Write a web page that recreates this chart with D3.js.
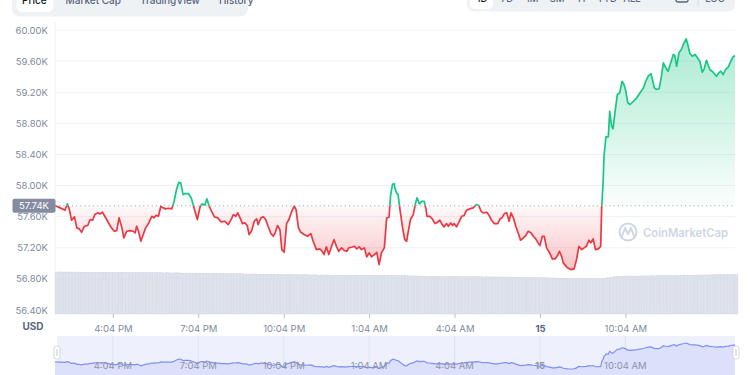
<!DOCTYPE html>
<html><head><meta charset="utf-8">
<script src="https://cdn.jsdelivr.net/npm/d3@7"></script>
<style>body{margin:0;background:#fff;overflow:hidden} svg{display:block;font-family:Inter,"Noto Sans",sans-serif}</style>
</head><body><svg id="c" width="750" height="375"></svg>
<script>
// ---------- data ----------
const startTime = new Date(2021, 9, 14, 14, 2);
const priceMinutes = [0,11,21,26,30,35,41,46,51,56,62,69,74,79,84,90,95,100,105,112,119,125,130,135,141,145,151,158,165,169,172,176,181,186,191,197,204,209,213,218,223,228,233,239,246,251,256,261,265,270,275,281,287,294,300,306,310,316,320,325,330,336,343,350,358,
365,371,376,381,385,390,395,400,405,409,414,420,425,428,434,439,444,449,455,460,464,469,474,478,483,488,493,499,504,508,513,518,525,532,539,544,551,558,563,567,572,577,583,588,593,598,604,610,615,619,625,631,636,641,646,652,657,662,667,673,678,683,688,694,699,704,707,711,715,
716,720,723,727,732,737,741,744,749,755,760,763,768,773,778,782,784,790,795,801,806,811,816,820,825,829,834,838,841,846,851,857,862,867,874,881,888,893,898,902,910,915,920,926,933,938,942,947,952,957,961,966,971,976,981,987,992,997,1003,1008,1013,1018,1022,1027,1031,1036,1043,1048,1054,1059,1063,1068,1071,
1080,1087,1094,1099,1104,1110,1115,1120,1125,1129,1134,1139,1145,1150,1152,1155,1157,1161,1166,1169,1173,1176,1180,1185,1190,1195,1199,1203,1207,1212,1219,1226,1233,1240,1245,1250,1256,1259,1263,1268,1273,1278,1282,1287,1292,1298,1303,1306,1310,1315,1320,1325,1330,1333,1338,1343,1349,1354,1359,1364,1368,1373,1376,1380,1387,1394,1399,1403,1408,1413,1419,1424,1429,1433];
const prices = [57743,57713,57682,57765,57700,57554,57597,57456,57443,57399,57477,57486,57563,57554,57627,57649,57636,57657,57605,57528,57456,57412,57421,57585,57456,57327,57412,57421,57412,57392,57477,57412,57284,57370,57456,57511,57605,57585,57618,57605,57734,57713,57700,57708,57700,57798,57949,58042,58035,57884,57897,57897,57842,57691,57563,57734,57765,57747,57829,57734,57669,57597,57585,57533,57541,
57498,57563,57627,57605,57649,57585,57511,57520,57486,57370,57412,57541,57572,57498,57585,57597,57563,57477,57383,57348,57392,57486,57434,57177,57142,57511,57563,57669,57734,57691,57456,57399,57370,57348,57383,57284,57177,57186,57155,57113,57212,57113,57219,57306,57219,57155,57199,57164,57155,57199,57207,57219,57186,57212,57177,57199,57083,57135,57083,57113,57142,56984,57135,57199,57585,57592,57862,58013,58026,
57970,57906,57884,57691,57477,57306,57284,57392,57563,57627,57778,57842,57765,57798,57798,57691,57605,57605,57572,57511,57528,57554,57498,57469,57511,57477,57520,57486,57511,57469,57528,57605,57614,57682,57700,57713,57756,57743,57669,57649,57657,57614,57554,57511,57511,57572,57585,57640,57649,57541,57649,57585,57477,57392,57297,57327,57357,57412,57392,57348,57315,57263,57228,57348,57348,57199,57126,57057,57057,57100,57155,57083,57006,
56942,56920,56929,57048,57219,57177,57199,57219,57297,57263,57315,57177,57186,57219,57713,58035,58377,58626,58626,58955,58763,58729,58935,59170,59192,59341,59299,59213,59064,59042,59084,59128,59192,59256,59341,59406,59440,59363,59256,59235,59244,59406,59578,59514,59470,59586,59685,59672,59534,59707,59749,59826,59887,59826,59698,59663,59685,59642,59598,59457,59501,59611,59556,59492,59457,59406,59449,59470,59427,59492,59526,59598,59655,59672];
const baselinePrice = 57740;
const volumeStepMinutes = 6;
const volumesB = [
42.0,42.1,42.0,41.9,42.0,42.0,41.9,41.9,42.0,41.8,41.8,41.9,41.8,41.8,41.7,41.8,41.7,41.7,41.6,41.7,
41.6,41.6,41.5,41.6,41.5,41.5,41.4,41.5,41.4,41.4,41.3,41.4,41.3,41.3,41.2,41.3,41.2,41.2,41.1,41.2,
41.1,41.1,41.2,41.0,41.0,40.9,41.0,40.9,40.8,40.9,40.8,40.8,40.7,40.7,40.8,40.6,40.6,40.5,40.6,40.5,
40.5,40.4,40.4,40.3,40.3,40.2,40.0,40.0,39.9,39.9,40.0,39.8,39.8,39.7,39.8,39.7,39.6,39.6,39.7,39.5,
39.5,39.4,39.5,39.4,39.3,39.3,39.2,39.3,39.2,39.1,39.1,39.2,39.0,39.0,38.9,39.0,38.9,38.8,38.9,38.8,
38.8,38.7,38.8,38.7,38.6,38.7,38.6,38.6,38.5,38.6,38.8,38.9,38.9,38.8,38.7,38.8,38.7,38.6,38.6,38.5,
38.4,38.3,38.3,38.2,38.1,38.1,38.0,38.0,37.9,37.9,37.8,37.8,37.7,37.8,37.7,37.6,37.6,37.5,37.6,37.5,
37.4,37.4,37.3,37.3,37.4,37.3,37.2,37.3,37.2,37.2,37.1,37.2,37.1,37.1,37.0,37.1,37.0,37.0,36.9,37.0,
36.9,36.8,36.9,36.8,36.7,36.6,36.6,36.5,36.4,36.4,36.3,36.2,36.2,36.1,36.0,36.0,35.9,35.8,35.8,35.7,
35.6,35.5,35.5,35.4,35.4,35.3,35.3,35.2,35.3,35.2,35.3,35.4,35.6,35.8,36.2,36.8,37.3,37.6,37.8,37.9,
38.0,37.9,38.0,38.0,37.9,38.0,38.1,38.0,38.1,38.2,38.1,38.2,38.3,38.2,38.3,38.4,38.3,38.4,38.5,38.4,
38.6,38.7,38.7,38.8,38.9,38.9,39.0,39.0,39.1,39.1,39.2,39.2,39.2,39.3,39.2,39.3,39.3,39.3,39.4,39.3];
const yTicks = [56400,56800,57200,57600,58000,58400,58800,59200,59600,60000];
const xTickMinutes = [122,302,482,662,842,1022,1202];
const xTickLabels = ["4:04 PM","7:04 PM","10:04 PM","1:04 AM","4:04 AM","15","10:04 AM"];
const leftTabs = ["Price","Market Cap","TradingView","History"];
const rangeTabs = ["1D","7D","1M","3M","1Y","YTD","ALL"];

// ---------- setup ----------
const toDate = m => new Date(startTime.getTime() + m*60000);
const pts = priceMinutes.map((m,i)=>({t:toDate(m), v:prices[i]}));
const svg = d3.select("#c");
const L = 55, R = 735;
const x = d3.scaleTime().domain([toDate(0), toDate(1433)]).range([L, R]);
const y = d3.scaleLinear().domain([56400, 60000]).range([310, 30]);
const yVol = d3.scaleLinear().domain([0, 45]).range([314, 269]);
const GREEN = "#16c784", RED = "#ea3943";
const by = y(baselinePrice);

const defs = svg.append("defs");
defs.append("clipPath").attr("id","above").append("rect").attr("x",0).attr("y",0).attr("width",750).attr("height",by);
defs.append("clipPath").attr("id","below").append("rect").attr("x",0).attr("y",by).attr("width",750).attr("height",375-by);
const gG = defs.append("linearGradient").attr("id","gG").attr("gradientUnits","userSpaceOnUse").attr("x1",0).attr("x2",0).attr("y1",y(d3.max(prices))).attr("y2",by);
gG.append("stop").attr("offset",0).attr("stop-color",GREEN).attr("stop-opacity",0.36);
gG.append("stop").attr("offset",1).attr("stop-color",GREEN).attr("stop-opacity",0.02);
const gR = defs.append("linearGradient").attr("id","gR").attr("gradientUnits","userSpaceOnUse").attr("x1",0).attr("x2",0).attr("y1",by).attr("y2",y(d3.min(prices)));
gR.append("stop").attr("offset",0).attr("stop-color",RED).attr("stop-opacity",0.03);
gR.append("stop").attr("offset",1).attr("stop-color",RED).attr("stop-opacity",0.3);

// ---------- top tab bars ----------
const tabsG = svg.append("g");
tabsG.append("rect").attr("x",12).attr("y",-12).attr("width",236).attr("height",28.5).attr("rx",8).attr("fill","#eff2f5");
tabsG.append("rect").attr("x",16.5).attr("y",-10).attr("width",37).attr("height",22).attr("rx",6).attr("fill","#fff");
const tabStarts = [];
let tx = 22;
leftTabs.forEach((t,i)=>{
  const el = tabsG.append("text").attr("x",tx).attr("y",4).attr("font-size",10).attr("font-weight",500)
    .attr("fill", i===0?"#0d1421":"#58667e").text(t);
  tx += el.node().getComputedTextLength() + 19;
});
const rg = svg.append("g");
rg.append("rect").attr("x",467).attr("y",-12).attr("width",268).attr("height",23.5).attr("rx",7).attr("fill","#eff2f5");
rg.append("rect").attr("x",470).attr("y",-10).attr("width",23).attr("height",19).attr("rx",5).attr("fill","#fff");
const rx = d3.scalePoint().domain(rangeTabs).range([482, 632]);
rg.selectAll("text.rt").data(rangeTabs).join("text").attr("class","rt").attr("x",d=>rx(d)).attr("y",2)
  .attr("text-anchor","middle").attr("font-size",9.5).attr("font-weight",500).attr("fill",(d,i)=>i===0?"#0d1421":"#58667e").text(d=>d);
rg.append("rect").attr("x",676).attr("y",-8).attr("width",12).attr("height",10).attr("rx",2).attr("fill","none").attr("stroke","#58667e").attr("stroke-width",1.3);
rg.append("line").attr("x1",698).attr("x2",698).attr("y1",-6).attr("y2",6).attr("stroke","#d6dae2");
rg.append("text").attr("x",715).attr("y",2).attr("text-anchor","middle").attr("font-size",9.5).attr("font-weight",500).attr("fill","#58667e").text("LOG");

// ---------- grid ----------
svg.append("g").selectAll("line").data(yTicks).join("line")
  .attr("x1",L).attr("x2",R).attr("y1",d=>y(d)).attr("y2",d=>y(d)).attr("stroke","#eff2f5").attr("stroke-width",1);
svg.append("line").attr("x1",L).attr("x2",L).attr("y1",22).attr("y2",314).attr("stroke","#eff2f5");

// ---------- volume bars ----------
const bw = (x(toDate(volumeStepMinutes)) - x(toDate(0)));
svg.append("g").selectAll("rect").data(volumesB).join("rect")
  .attr("x",(d,i)=>x(toDate(i*volumeStepMinutes))+0.3).attr("width",bw-0.7)
  .attr("y",d=>yVol(d)).attr("height",d=>yVol(0)-yVol(d))
  .attr("fill","#dfe3ec").attr("stroke","#c8cedc").attr("stroke-width",0.4);

// ---------- watermark ----------
const wm = svg.append("g").attr("fill","none").attr("stroke","#cfd6e4");
wm.append("circle").attr("cx",628).attr("cy",232).attr("r",8.5).attr("stroke-width",2);
wm.append("path").attr("d","M622,236 L625,228 L628,234 L631,228 L634,236").attr("stroke-width",2).attr("stroke-linejoin","round").attr("stroke-linecap","round");
svg.append("text").attr("x",643).attr("y",237).attr("font-size",11.5).attr("font-weight",600).attr("fill","#cfd6e4")
  .attr("textLength",85).attr("lengthAdjust","spacingAndGlyphs").text("CoinMarketCap");

// ---------- price area + line ----------
const area = d3.area().x(d=>x(d.t)).y0(by).y1(d=>y(d.v));
const line = d3.line().x(d=>x(d.t)).y(d=>y(d.v));
svg.append("path").datum(pts).attr("d",area).attr("fill","url(#gG)").attr("clip-path","url(#above)");
svg.append("path").datum(pts).attr("d",area).attr("fill","url(#gR)").attr("clip-path","url(#below)");
svg.append("line").attr("x1",L).attr("x2",R).attr("y1",by).attr("y2",by).attr("stroke","#a6b0c3").attr("stroke-dasharray","1.2,3").attr("stroke-width",1);
svg.append("path").datum(pts).attr("d",line).attr("fill","none").attr("stroke",GREEN).attr("stroke-width",1.7).attr("stroke-linejoin","round").attr("clip-path","url(#above)");
svg.append("path").datum(pts).attr("d",line).attr("fill","none").attr("stroke",RED).attr("stroke-width",1.7).attr("stroke-linejoin","round").attr("clip-path","url(#below)");

// ---------- y axis ----------
const yAxis = svg.append("g").attr("transform",`translate(${L-7},0)`)
  .call(d3.axisLeft(y).tickValues(yTicks).tickSize(0).tickPadding(0).tickFormat(d=>(d/1000).toFixed(2)+"K"));
yAxis.select(".domain").remove();
yAxis.selectAll("text").attr("font-size",9.5).attr("fill","#808a9d").attr("font-family","Inter");
svg.append("rect").attr("x",12.5).attr("y",by-7).attr("width",43).attr("height",14).attr("rx",2).attr("fill","#858ca2");
svg.append("text").attr("x",34).attr("y",by+3.5).attr("text-anchor","middle").attr("font-size",9.5).attr("fill","#fff").text((baselinePrice/1000).toFixed(2)+"K");

// ---------- x axis ----------
const xt = xTickMinutes.map(toDate);
const xAxis = svg.append("g").attr("transform","translate(0,314)")
  .call(d3.axisBottom(x).tickValues(xt).tickSize(4).tickPadding(7).tickFormat((d,i)=>xTickLabels[i]));
xAxis.select(".domain").remove();
xAxis.selectAll("line").attr("stroke","#b8bfcc");
xAxis.selectAll("text").attr("font-size",9.5).attr("font-family","Inter")
  .attr("font-weight",(d,i)=>xTickLabels[i]==="15"?700:400).attr("fill",(d,i)=>xTickLabels[i]==="15"?"#58667e":"#808a9d");
svg.append("text").attr("x",33).attr("y",330).attr("text-anchor","middle").attr("font-size",10).attr("font-weight",700).attr("fill","#58667e").text("USD");

// ---------- navigator ----------
const yNav = d3.scaleLinear().domain(d3.extent(prices)).range([369, 343]);
const nav = svg.append("g");
nav.append("rect").attr("x",L+2).attr("y",336).attr("width",R-L-2).attr("height",45).attr("fill","#eef0fd");
nav.selectAll("line.ng").data(xt).join("line").attr("class","ng").attr("x1",d=>x(d)).attr("x2",d=>x(d)).attr("y1",336).attr("y2",375).attr("stroke","#e0e3f5");
nav.append("path").datum(pts).attr("d",d3.area().x(d=>x(d.t)).y0(376).y1(d=>yNav(d.v))).attr("fill","#dde0fb");
nav.append("path").datum(pts).attr("d",d3.line().x(d=>x(d.t)).y(d=>yNav(d.v))).attr("fill","none").attr("stroke","#7f90f3").attr("stroke-width",1.2);
nav.selectAll("text").data(xt).join("text").attr("x",d=>x(d)).attr("y",369).attr("text-anchor","middle")
  .attr("font-size",9.5).attr("font-weight",(d,i)=>xTickLabels[i]==="15"?700:400).attr("fill","#8b93a7").text((d,i)=>xTickLabels[i]);
[L+2, R+1].forEach(hx=>{
  nav.append("rect").attr("x",hx-3).attr("y",346).attr("width",6).attr("height",13).attr("rx",2.5).attr("fill","#fff").attr("stroke","#c9cdd8").attr("stroke-width",0.8);
  nav.append("line").attr("x1",hx).attr("x2",hx).attr("y1",349).attr("y2",356).attr("stroke","#b0b6c4").attr("stroke-width",0.8);
});
</script></body></html>
